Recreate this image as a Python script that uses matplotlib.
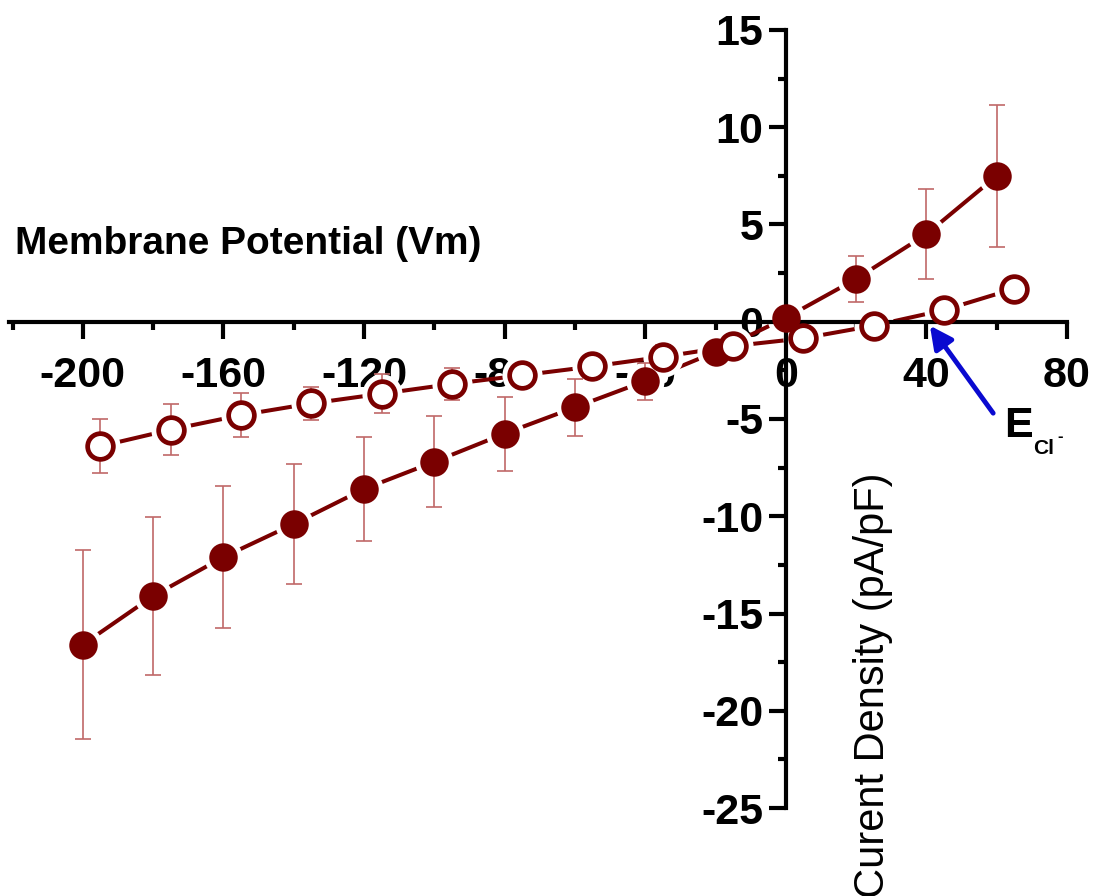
import matplotlib
matplotlib.use('Agg')
import matplotlib.pyplot as plt
from matplotlib.ticker import MultipleLocator

plt.rcParams['font.family'] = ['Liberation Sans', 'DejaVu Sans']

# membrane potential (mV) and current density (pA/pF), mean +/- error
v_filled = [-200, -180, -160, -140, -120, -100, -80, -60, -40, -20, 0, 20, 40, 60]
i_filled = [-16.6, -14.1, -12.1, -10.4, -8.6, -7.2, -5.75, -4.4, -3.05, -1.55,
            0.2, 2.2, 4.5, 7.5]
e_filled = [4.85, 4.05, 3.65, 3.1, 2.65, 2.35, 1.9, 1.45, 0.95, 0.4,
            0.3, 1.2, 2.3, 3.65]

v_open = [-195, -175, -155, -135, -115, -95, -75, -55, -35, -15, 5, 25, 45, 65]
i_open = [-6.4, -5.55, -4.8, -4.2, -3.7, -3.2, -2.75, -2.3, -1.8, -1.25,
          -0.85, -0.2, 0.6, 1.7]
e_open = [1.4, 1.3, 1.15, 0.85, 1.0, 0.8, 0.6, 0.5, 0.6, 0.5,
          0.5, 0.4, 0.4, 0.3]

x_ticks = [-200, -160, -120, -80, -40, 0, 40, 80]
y_ticks = [15, 10, 5, 0, -5, -10, -15, -20, -25]

dark = '#7a0000'
err_col = '#c06868'

fig = plt.figure(figsize=(10.96, 8.96), dpi=100)
ax = fig.add_axes([9 / 1096, 88 / 896, 1058 / 1096, 778 / 896])

for v, i, e, face, ms, mew in [(v_filled, i_filled, e_filled, dark, 18.5, 2),
                               (v_open, i_open, e_open, 'white', 18.5, 3.4)]:
    ax.plot(v, i, '-', color=dark, lw=2.9, zorder=2.0, solid_capstyle='butt')
    # white halo so the connecting line stops short of each symbol
    ax.plot(v, i, 'o', ms=ms + mew + 7, color='white', mec='none', zorder=2.1)
    ax.errorbar(v, i, yerr=e, fmt='none', ecolor=err_col, elinewidth=1.2,
                capsize=6, capthick=1.2, zorder=3)
    ax.plot(v, i, 'o', ms=ms, mfc=face, mec=dark, mew=mew, zorder=4)

ax.set_xlim(-221, 80)
ax.set_ylim(-25, 15)

ax.spines['left'].set_position(('data', 0))
ax.spines['bottom'].set_position(('data', 0))
ax.spines['top'].set_visible(False)
ax.spines['right'].set_visible(False)
for s in ('left', 'bottom'):
    ax.spines[s].set_linewidth(3)

ax.set_xticks(x_ticks)
ax.set_xticklabels([str(t) for t in x_ticks])
ax.set_yticks(y_ticks)
ax.set_yticklabels([str(t) for t in y_ticks])
ax.xaxis.set_minor_locator(MultipleLocator(20))
ax.yaxis.set_minor_locator(MultipleLocator(2.5))
ax.tick_params(which='major', direction='out', length=12, width=3,
               labelsize=31, pad=4)
ax.tick_params(axis='x', which='major', pad=13)
ax.tick_params(which='minor', direction='out', length=6, width=3)
for lab in ax.get_xticklabels() + ax.get_yticklabels():
    lab.set_fontweight('bold')
ax.set_facecolor('none')

fig.text(15 / 1096, 1 - 244 / 896, 'Membrane Potential (Vm)', fontsize=28,
         fontweight='bold', ha='left', va='center')
fig.text(873 / 1096, 1 - 685 / 896, 'Curent Density (pA/pF)', fontsize=30,
         rotation=90, ha='center', va='center')

ax.annotate('', xy=(41, -0.2), xytext=(59, -4.7),
            arrowprops=dict(arrowstyle='-|>', color='#0a0ad0', lw=3.5,
                            mutation_scale=34, shrinkA=0, shrinkB=0),
            zorder=5)
fig.text(1004 / 1096, 1 - 437 / 896, 'E', fontsize=31, fontweight='bold',
         ha='left', va='baseline')
fig.text(1033 / 1096, 1 - 454 / 896, 'Cl', fontsize=15, fontweight='bold',
         ha='left', va='baseline')
fig.text(1057 / 1096, 1 - 441 / 896, '-', fontsize=12, fontweight='bold',
         ha='left', va='baseline')

fig.savefig('out.png', dpi=100)
